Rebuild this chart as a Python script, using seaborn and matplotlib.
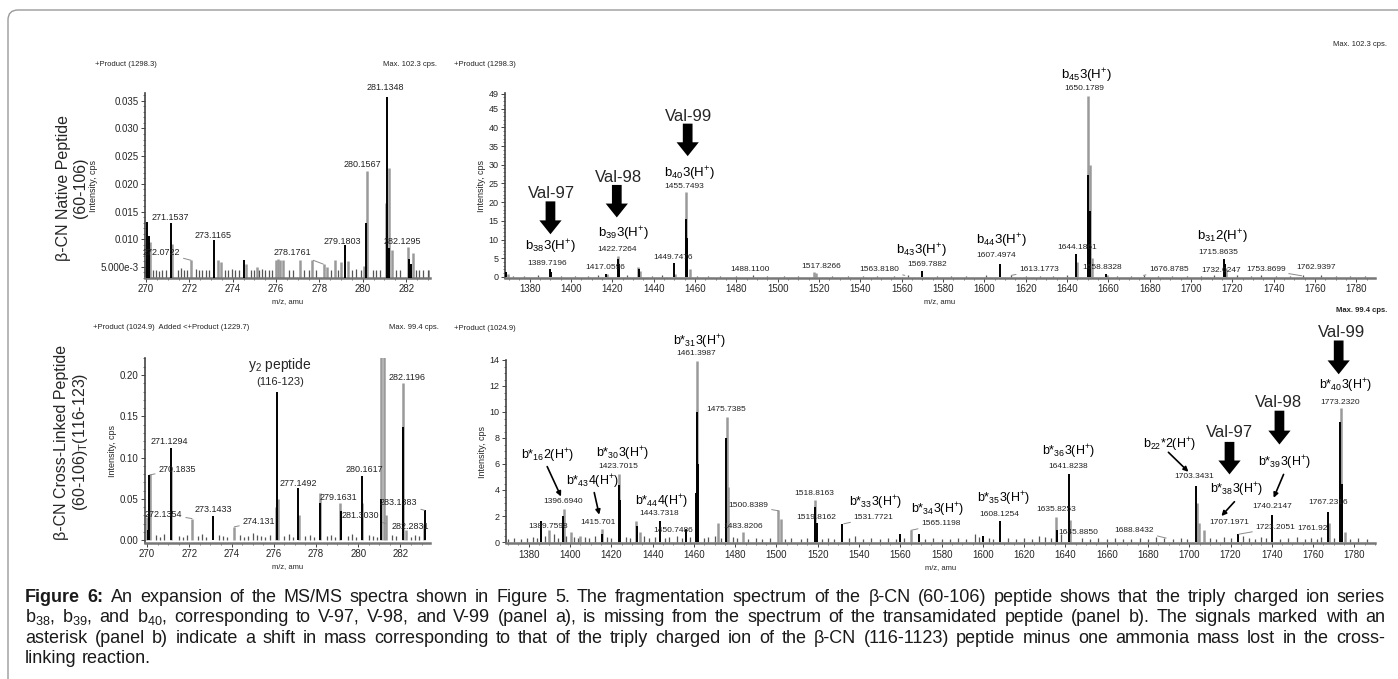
import matplotlib
matplotlib.use("Agg")
import matplotlib.pyplot as plt
import matplotlib.font_manager as fm
from matplotlib.patches import FancyBboxPatch
from matplotlib.ticker import MultipleLocator
import seaborn as sns

# ---------------- data ----------------
# panel a, left (m/z 270-283)
tl_black_mz = [270.05, 270.12, 271.15, 273.12, 274.52, 279.18, 280.16, 281.13, 281.2, 282.15, 282.22]
tl_black_int = [0.0131, 0.0105, 0.0129, 0.0098, 0.0063, 0.0089, 0.0129, 0.0357, 0.0085, 0.0064, 0.0055]
tl_gray_mz = [270.0, 270.18, 271.2, 272.07, 273.3, 273.45, 274.6, 275.1, 276.0, 276.1, 276.2, 276.3,
              277.1, 277.65, 278.2, 278.35, 278.7, 279.0, 279.3, 280.05, 280.2, 281.05, 281.2, 281.35,
              282.1, 282.3, 283.05]
tl_gray_int = [0.0065, 0.0095, 0.0092, 0.0062, 0.0063, 0.0058, 0.0055, 0.0050, 0.0063, 0.0064, 0.0062, 0.0063,
               0.0063, 0.0062, 0.0056, 0.0050, 0.0062, 0.0058, 0.0060, 0.0052, 0.0223, 0.0166, 0.0228, 0.0080,
               0.0086, 0.0075, 0.0045]
tl_noise_mz = [270.3, 270.45, 270.6, 270.75, 270.9, 271.45, 271.6, 271.75, 271.9, 272.3, 272.45, 272.6,
               272.75, 272.9, 273.65, 273.8, 273.95, 274.1, 274.3, 274.85, 275.0, 275.2, 275.35, 275.5,
               275.65, 275.8, 276.6, 276.8, 277.3, 277.5, 277.85, 278.55, 278.85, 279.5, 279.7, 279.9,
               280.45, 280.6, 280.8, 281.55, 281.7, 282.45, 282.6, 282.8, 283.0]
tl_noise_int = [0.0045, 0.0045, 0.0042, 0.0045, 0.0045, 0.0045, 0.0048, 0.0044, 0.0045, 0.0046, 0.0045, 0.0045,
                0.0044, 0.0045, 0.0045, 0.0044, 0.0046, 0.0045, 0.0045, 0.0045, 0.0045, 0.0044, 0.0046, 0.0045,
                0.0045, 0.0045, 0.0045, 0.0044, 0.0045, 0.0045, 0.0044, 0.0045, 0.0044, 0.0045, 0.0046, 0.0045,
                0.0045, 0.0045, 0.0044, 0.0045, 0.0045, 0.0045, 0.0045, 0.0044, 0.0045]

# panel a, right (m/z 1368-1790)
tr_black_mz = [1368.6, 1389.7, 1390.3, 1417.0, 1422.6, 1423.3, 1432.8, 1449.75, 1455.6, 1456.3,
               1569.8, 1607.5, 1644.2, 1650.1, 1651.2, 1658.8, 1715.8, 1716.3]
tr_black_int = [1.2, 2.0, 1.2, 0.8, 4.8, 3.5, 2.0, 3.6, 15.5, 10.5,
                1.6, 3.5, 6.0, 27.2, 17.5, 0.8, 4.8, 3.5]
tr_gray_mz = [1369.3, 1417.5, 1422.8, 1432.2, 1433.5, 1450.3, 1455.8, 1457.6, 1517.6, 1518.3,
              1645.0, 1650.3, 1651.0, 1652.0, 1659.3, 1716.8]
tr_gray_int = [0.8, 0.7, 5.7, 2.6, 1.5, 0.8, 22.6, 2.0, 1.2, 1.1,
               4.0, 48.5, 30.0, 5.0, 0.6, 2.0]
tr_noise_mz = [1372, 1377, 1384, 1395, 1402, 1408, 1413, 1427, 1439, 1444, 1461, 1466, 1472, 1480,
               1488, 1495, 1503, 1510, 1526, 1534, 1541, 1548, 1556, 1563, 1577, 1584, 1591, 1601,
               1613, 1620, 1627, 1633, 1640, 1664, 1671, 1677, 1684, 1691, 1698, 1705, 1711, 1722,
               1729, 1734, 1741, 1748, 1754, 1763, 1770, 1777, 1784]
tr_noise_int = [0.3, 0.2, 0.4, 0.3, 0.2, 0.3, 0.4, 0.5, 0.3, 0.4, 0.3, 0.2, 0.3, 0.2,
                0.4, 0.2, 0.3, 0.2, 0.3, 0.2, 0.3, 0.2, 0.2, 0.4, 0.3, 0.2, 0.3, 0.4,
                0.5, 0.2, 0.3, 0.2, 0.6, 0.3, 0.2, 0.4, 0.2, 0.3, 0.2, 0.3, 0.4, 0.6,
                0.3, 0.4, 0.3, 0.2, 0.4, 0.5, 0.2, 0.3, 0.2]

# panel b, left (m/z 270-283)
bl_black_mz = [270.02, 270.11, 271.12, 273.14, 276.15, 277.15, 278.17, 279.17, 280.16, 281.1, 282.13, 283.14]
bl_black_int = [0.012, 0.079, 0.111, 0.029, 0.180, 0.063, 0.045, 0.035, 0.078, 0.050, 0.137, 0.036]
bl_gray_mz = [270.0, 270.15, 271.15, 272.13, 274.13, 276.1, 276.2, 277.2, 278.2, 279.16, 280.2,
              281.08, 281.22, 281.3, 282.12, 282.28, 283.1]
bl_gray_int = [0.028, 0.080, 0.085, 0.026, 0.016, 0.040, 0.050, 0.030, 0.057, 0.045, 0.045,
               0.230, 0.230, 0.030, 0.190, 0.012, 0.020]
bl_noise_mz = [270.4, 270.6, 270.8, 271.5, 271.7, 271.9, 272.4, 272.6, 272.8, 273.4, 273.6, 273.8,
               274.4, 274.6, 274.8, 275.0, 275.2, 275.4, 275.6, 275.8, 276.5, 276.7, 276.9, 277.5,
               277.7, 277.9, 278.5, 278.7, 278.9, 279.5, 279.7, 279.9, 280.5, 280.7, 280.9, 281.6,
               281.8, 282.5, 282.7, 282.9]
bl_noise_int = [0.006, 0.004, 0.007, 0.005, 0.004, 0.006, 0.005, 0.007, 0.004, 0.006, 0.005, 0.004,
                0.006, 0.004, 0.005, 0.008, 0.006, 0.005, 0.004, 0.006, 0.005, 0.007, 0.004, 0.005,
                0.006, 0.004, 0.005, 0.006, 0.004, 0.005, 0.007, 0.004, 0.006, 0.005, 0.004, 0.006,
                0.005, 0.004, 0.006, 0.005]

# panel b, right (m/z 1368-1790)
br_black_mz = [1368.5, 1386.0, 1396.6, 1415.7, 1423.6, 1424.4, 1432.5, 1443.7, 1456.0, 1461.0, 1461.4,
               1462.1, 1475.7, 1518.6, 1519.6, 1531.8, 1560.0, 1569.0, 1600.0, 1608.1, 1635.8, 1641.8,
               1703.3, 1723.5, 1740.2, 1767.2, 1773.2, 1774.0]
br_black_int = [0.5, 1.6, 2.0, 0.6, 4.4, 3.2, 1.2, 1.6, 1.0, 3.8, 10.0,
                6.0, 8.0, 2.7, 1.5, 1.4, 0.6, 0.6, 0.5, 1.6, 0.9, 5.2,
                4.3, 0.6, 2.1, 2.3, 9.2, 4.5]
br_gray_mz = [1390.0, 1396.9, 1400.5, 1405.0, 1415.3, 1423.8, 1432.0, 1434.0, 1461.6, 1471.5, 1475.9,
              1476.6, 1483.8, 1500.8, 1502.0, 1518.8, 1565.1, 1635.6, 1642.3, 1703.6, 1704.5, 1707.2,
              1767.6, 1773.4, 1775.5]
br_gray_int = [0.9, 2.55, 0.8, 0.5, 1.0, 5.25, 1.6, 0.8, 13.9, 1.5, 9.65,
               4.2, 0.8, 2.45, 1.8, 3.2, 0.9, 1.9, 1.7, 3.0, 1.5, 0.9,
               1.5, 10.3, 0.8]
br_noise_mz = [1370, 1373, 1376, 1379, 1382, 1384, 1388, 1392, 1394, 1398, 1402, 1404, 1407, 1409, 1412,
               1418, 1420, 1427, 1429, 1436, 1438, 1441, 1446, 1448, 1452, 1454, 1458, 1465, 1467, 1470,
               1473, 1479, 1481, 1486, 1490, 1493, 1497, 1504, 1507, 1512, 1515, 1522, 1525, 1528, 1535,
               1538, 1542, 1546, 1550, 1554, 1558, 1562, 1572, 1576, 1580, 1584, 1588, 1592, 1596, 1598,
               1603, 1605, 1612, 1616, 1620, 1624, 1627, 1630, 1633, 1638, 1648, 1652, 1656, 1660, 1664,
               1668, 1672, 1676, 1680, 1684, 1688, 1692, 1696, 1699, 1710, 1713, 1717, 1720, 1726, 1729,
               1732, 1735, 1737, 1744, 1748, 1752, 1756, 1759, 1762, 1764, 1770, 1778, 1782, 1786]
br_noise_int = [0.2, 0.3, 0.2, 0.3, 0.4, 0.3, 0.5, 0.6, 0.3, 0.5, 0.4, 0.3, 0.4, 0.3, 0.5,
                0.4, 0.3, 0.4, 0.3, 0.5, 0.3, 0.4, 0.3, 0.4, 0.5, 0.3, 0.4, 0.3, 0.4, 0.5,
                0.3, 0.4, 0.3, 0.2, 0.3, 0.2, 0.3, 0.2, 0.3, 0.2, 0.3, 0.2, 0.3, 0.2, 0.3,
                0.5, 0.2, 0.3, 0.2, 0.3, 0.2, 0.3, 0.2, 0.3, 0.2, 0.2, 0.3, 0.2, 0.6, 0.4,
                0.3, 0.2, 0.3, 0.2, 0.3, 0.2, 0.5, 0.4, 0.3, 0.6, 0.3, 0.2, 0.3, 0.2, 0.3,
                0.2, 0.2, 0.3, 0.2, 0.4, 0.3, 0.2, 0.3, 0.2, 0.3, 0.2, 0.4, 0.3, 0.5, 0.3,
                0.2, 0.4, 0.3, 0.2, 0.3, 0.4, 0.2, 0.3, 0.2, 0.4, 0.3, 0.2, 0.3, 0.2]

# annotations: (text, m/z, intensity) and optional leader target (m/z, intensity)
tl_values = [("281.1348", 281.03, 0.0374, None), ("280.1567", 279.97, 0.0235, None),
             ("271.1537", 271.14, 0.0140, None), ("273.1165", 273.09, 0.0107, None),
             ("279.1803", 279.06, 0.0095, None), ("282.1295", 281.80, 0.0095, None),
             ("272.0722", 270.71, 0.0076, (272.07, 0.0062)), ("278.1761", 276.77, 0.0076, (278.18, 0.0055))]

tr_values = [("1389.7196", 1388.3, 3.7, None), ("1422.7264", 1422.1, 7.4, None),
             ("1455.7493", 1454.5, 24.1, None), ("1417.0596", 1416.3, 2.4, None),
             ("1449.7476", 1449.2, 5.3, None), ("1488.1100", 1486.8, 1.9, None),
             ("1517.8266", 1521.1, 2.9, None), ("1563.8180", 1549.2, 1.9, (1561.5, 0.4)),
             ("1569.7882", 1572.3, 3.2, None), ("1607.4974", 1605.7, 5.6, None),
             ("1613.1773", 1626.5, 1.9, (1613.0, 0.4)), ("1644.1861", 1644.8, 7.9, None),
             ("1650.1789", 1648.2, 50.3, None), ("1658.8328", 1656.9, 2.6, None),
             ("1676.8785", 1689.3, 1.9, (1677.0, 0.4)), ("1715.8635", 1713.4, 6.6, None),
             ("1732.0247", 1714.4, 1.6, None), ("1753.8699", 1736.1, 1.9, (1753.5, 0.3)),
             ("1762.9397", 1760.3, 2.4, None)]
tr_ions = [("b$_{38}$3(H$^{+}$)", 1390.2, 7.9), ("b$_{39}$3(H$^{+}$)", 1425.5, 11.4),
           ("b$_{40}$3(H$^{+}$)", 1457.4, 27.5), ("b$_{43}$3(H$^{+}$)", 1569.4, 6.9),
           ("b$_{44}$3(H$^{+}$)", 1608.1, 9.5), ("b$_{45}$3(H$^{+}$)", 1649.6, 53.7),
           ("b$_{31}$2(H$^{+}$)", 1715.3, 10.6)]
tr_val = [("Val-97", 1390.6, 22.2, 1390.0, 20.2, 11.4),
          ("Val-98", 1423.1, 26.7, 1422.1, 24.6, 15.9),
          ("Val-99", 1456.9, 42.9, 1456.4, 41.0, 32.3)]

bl_values = [("271.1294", 271.07, 0.120, None), ("270.1835", 271.42, 0.0857, (270.15, 0.079)),
             ("272.1354", 270.79, 0.0315, (272.13, 0.026)), ("273.1433", 273.13, 0.037, None),
             ("274.131", 275.29, 0.022, (274.13, 0.016)), ("277.1492", 277.16, 0.069, None),
             ("279.1631", 279.08, 0.052, None), ("280.1617", 280.27, 0.0857, None),
             ("283.1383", 281.92, 0.045, (283.14, 0.036)), ("281.3030", 280.10, 0.030, (281.30, 0.020)),
             ("282.1196", 282.29, 0.197, None), ("282.2831", 282.45, 0.016, None)]

br_values = [("1461.3987", 1461.2, 14.5, None), ("1475.7385", 1475.8, 10.2, None),
             ("1396.6940", 1396.6, 3.1, None), ("1415.701", 1413.6, 1.5, None),
             ("1423.7015", 1423.3, 5.8, None), ("1389.7598", 1389.3, 1.2, None),
             ("1443.7318", 1443.2, 2.2, None), ("1450.7486", 1450.0, 0.86, None),
             ("1500.8389", 1486.4, 2.8, (1501.0, 2.4)), ("1483.8206", 1484.0, 1.2, None),
             ("1518.8163", 1518.5, 3.7, None), ("1519.8162", 1519.4, 1.9, None),
             ("1531.7721", 1547.1, 1.9, (1532.6, 1.4)), ("1565.1198", 1579.7, 1.4, (1565.2, 0.9)),
             ("1608.1254", 1607.8, 2.1, None), ("1635.8253", 1635.5, 2.5, None),
             ("1641.8238", 1641.3, 5.8, None), ("1645.8850", 1646.2, 0.7, None),
             ("1688.8432", 1673.4, 0.9, (1688.8, 0.3)), ("1703.3431", 1702.5, 5.0, None),
             ("1707.1971", 1719.4, 1.5, None), ("1723.2051", 1741.8, 1.1, (1724.0, 0.6)),
             ("1740.2147", 1740.4, 2.7, None), ("1761.92", 1759.8, 1.0, None),
             ("1767.2316", 1767.5, 3.0, None), ("1773.2320", 1772.9, 10.7, None)]
br_ions = [("b*$_{31}$3(H$^{+}$)", 1462.6, 15.4), ("b*$_{16}$2(H$^{+}$)", 1388.9, 6.6),
           ("b*$_{43}$4(H$^{+}$)", 1410.7, 4.6), ("b*$_{30}$3(H$^{+}$)", 1425.3, 6.8),
           ("b*$_{44}$4(H$^{+}$)", 1444.2, 3.1), ("b*$_{33}$3(H$^{+}$)", 1548.1, 3.0),
           ("b*$_{34}$3(H$^{+}$)", 1578.2, 2.5), ("b*$_{35}$3(H$^{+}$)", 1609.8, 3.3),
           ("b*$_{36}$3(H$^{+}$)", 1641.3, 6.9), ("b$_{22}$*2(H$^{+}$)", 1690.4, 7.5),
           ("b*$_{38}$3(H$^{+}$)", 1722.9, 4.0), ("b*$_{39}$3(H$^{+}$)", 1746.2, 6.1),
           ("b*$_{40}$3(H$^{+}$)", 1775.8, 12.0)]
br_pointers = [(1388.9, 5.8, 1395.6, 3.5), (1411.7, 3.8, 1414.1, 2.1), (1689.9, 6.9, 1699.6, 5.4),
               (1721.9, 3.1, 1715.6, 2.0), (1745.7, 5.2, 1740.9, 3.4)]
br_val = [("Val-97", 1719.5, 8.4, 1719.5, 7.7, 5.2),
          ("Val-98", 1743.3, 10.7, 1743.7, 10.1, 7.5),
          ("Val-99", 1773.8, 16.1, 1772.4, 15.5, 12.9)]

caption_lines = [
    "Figure 6: An expansion of the MS/MS spectra shown in Figure 5. The fragmentation spectrum of the "
    "\u03b2-CN (60-106) peptide shows that the triply charged ion series",
    "b$_{38}$, b$_{39}$, and b$_{40}$, corresponding to V-97, V-98, and V-99 (panel a), is missing from the "
    "spectrum of the transamidated peptide (panel b). The signals marked with an",
    "asterisk (panel b) indicate a shift in mass corresponding to that of the triply charged ion of the "
    "\u03b2-CN (116-1123) peptide minus one ammonia mass lost in the cross-",
    "linking reaction.",
]

# ---------------- style ----------------
sns.set_style("white")
installed = {f.name for f in fm.fontManager.ttflist}
BASE = "Liberation Sans" if "Liberation Sans" in installed else "DejaVu Sans"
plt.rcParams["font.family"] = [BASE, "DejaVu Sans"]
plt.rcParams["mathtext.fontset"] = "custom"
plt.rcParams["mathtext.rm"] = BASE
plt.rcParams["mathtext.it"] = BASE
plt.rcParams["mathtext.bf"] = BASE + ":bold"
plt.rcParams["mathtext.default"] = "regular"

W, H = 1398, 679
GRAY = "#9a9a9a"


def fx(px):
    return px / W


def fy(py):
    return 1 - py / H


def draw_spectrum(ax, gmz, gint, bmz, bint, nmz, nint, base):
    ax.vlines(gmz, base, gint, color=GRAY, lw=1.8, zorder=2)
    ax.vlines(nmz, base, nint, color="#555555", lw=0.9, zorder=2)
    ax.vlines(bmz, base, bint, color="black", lw=1.4, zorder=3)


def style_axes(ax, xlim, ylim, xmajor, xminor, yticks, ylabels, yminor, ysize):
    ax.set_xlim(xlim)
    ax.set_ylim(ylim)
    ax.xaxis.set_major_locator(MultipleLocator(xmajor))
    ax.xaxis.set_minor_locator(MultipleLocator(xminor))
    ax.set_yticks(yticks)
    ax.set_yticklabels(ylabels)
    ax.yaxis.set_minor_locator(MultipleLocator(yminor))
    sns.despine(ax=ax)
    ax.spines["left"].set_color("#444444")
    ax.spines["left"].set_linewidth(1.2)
    ax.spines["bottom"].set_color("#777777")
    ax.spines["bottom"].set_linewidth(1.8)
    ax.tick_params(which="both", bottom=True, left=True, direction="out", color="#444444")
    ax.tick_params(which="major", length=3, width=0.7, pad=1.5)
    ax.tick_params(which="minor", length=1.5, width=0.5)
    ax.tick_params(axis="x", labelsize=7)
    ax.tick_params(axis="y", labelsize=ysize)
    ax.set_xlabel("m/z, amu", fontsize=5.5, labelpad=3)
    ax.set_ylabel("Intensity, cps", fontsize=6.5, labelpad=2)
    ax.patch.set_alpha(0)


def add_values(ax, values, size=6):
    for text, x, y, target in values:
        if target is None:
            ax.text(x, y, text, fontsize=size, ha="center", va="center", color="#222222", zorder=5)
        else:
            ax.annotate(text, xy=target, xytext=(x, y), fontsize=size, ha="center", va="center",
                        color="#222222", zorder=5,
                        arrowprops=dict(arrowstyle="-", color="#8a8a8a", lw=0.7, shrinkA=0, shrinkB=0))


def add_ions(ax, ions, size):
    for text, x, y in ions:
        ax.text(x, y, text, fontsize=size, ha="center", va="center", color="black", zorder=6)


def add_val_arrows(ax, vals):
    for text, tx, ty, ax_x, y0, y1 in vals:
        ax.text(tx, ty, text, fontsize=12, ha="center", va="center", zorder=6)
        ax.annotate("", xy=(ax_x, y1), xytext=(ax_x, y0), zorder=6,
                    arrowprops=dict(facecolor="black", edgecolor="black", width=7, headwidth=16,
                                    headlength=10, shrink=0, lw=0))


# ---------------- figure ----------------
fig = plt.figure(figsize=(W / 100, H / 100), dpi=100)

border = FancyBboxPatch((0.08, -1.0), 20, 6.69 + 1.0, boxstyle="round,pad=0,rounding_size=0.1",
                        transform=fig.dpi_scale_trans, fill=False, ec="#9a9a9a", lw=1.0)
fig.add_artist(border)

ax_tl = fig.add_axes([fx(145), fy(278), 285 / W, 185 / H])
ax_tr = fig.add_axes([fx(505), fy(278), 870 / W, 185 / H])
ax_bl = fig.add_axes([fx(145), fy(543), 285 / W, 185 / H])
ax_br = fig.add_axes([fx(505.7), fy(543.3), 869.3 / W, 183.3 / H])

# panel a, left
draw_spectrum(ax_tl, tl_gray_mz, tl_gray_int, tl_black_mz, tl_black_int, tl_noise_mz, tl_noise_int, 0.003)
style_axes(ax_tl, (269.95, 283.1), (0.003, 0.0364), 2, 0.5,
           [0.005, 0.010, 0.015, 0.020, 0.025, 0.030, 0.035],
           ["5.000e-3", "0.010", "0.015", "0.020", "0.025", "0.030", "0.035"], 0.001, 7)
add_values(ax_tl, tl_values, size=6.5)

# panel a, right
draw_spectrum(ax_tr, tr_gray_mz, tr_gray_int, tr_black_mz, tr_black_int, tr_noise_mz, tr_noise_int, 0)
style_axes(ax_tr, (1368, 1789), (-0.3, 49.2), 20, 5,
           [0, 5, 10, 15, 20, 25, 30, 35, 40, 45, 49],
           ["0", "5", "10", "15", "20", "25", "30", "35", "40", "45", "49"], 1, 6.5)
add_values(ax_tr, tr_values)
add_ions(ax_tr, tr_ions, 9.5)
add_val_arrows(ax_tr, tr_val)

# panel b, left
draw_spectrum(ax_bl, bl_gray_mz, bl_gray_int, bl_black_mz, bl_black_int, bl_noise_mz, bl_noise_int, 0)
style_axes(ax_bl, (269.9, 283.4), (-0.0036, 0.2206), 2, 0.5,
           [0.0, 0.05, 0.10, 0.15, 0.20], ["0.00", "0.05", "0.10", "0.15", "0.20"], 0.01, 7)
add_values(ax_bl, bl_values, size=6.5)
ax_bl.text(276.3, 0.212, "y$_{2}$ peptide", fontsize=10, ha="center", va="center")
ax_bl.text(276.3, 0.191, "(116-123)", fontsize=8, ha="center", va="center")

# panel b, right
draw_spectrum(ax_br, br_gray_mz, br_gray_int, br_black_mz, br_black_int, br_noise_mz, br_noise_int, 0)
style_axes(ax_br, (1368.8, 1790), (-0.1, 14.0), 20, 5,
           [0, 2, 4, 6, 8, 10, 12, 14], ["0", "2", "4", "6", "8", "10", "12", "14"], 0.5, 6.5)
add_values(ax_br, br_values)
add_ions(ax_br, br_ions, 9)
for x0, y0, x1, y1 in br_pointers:
    ax_br.annotate("", xy=(x1, y1), xytext=(x0, y0), zorder=6,
                   arrowprops=dict(arrowstyle="-|>", color="black", lw=1.2, mutation_scale=7,
                                   shrinkA=0, shrinkB=0))
add_val_arrows(ax_br, br_val)

# headers
hdr = dict(fontsize=5.5, color="#222222", va="center")
fig.text(fx(95), fy(64), "+Product (1298.3)", ha="left", **hdr)
fig.text(fx(437), fy(64), "Max. 102.3 cps.", ha="right", **hdr)
fig.text(fx(454), fy(64), "+Product (1298.3)", ha="left", **hdr)
fig.text(fx(1387), fy(44), "Max. 102.3 cps.", ha="right", **hdr)
fig.text(fx(93), fy(327), "+Product (1024.9)  Added <+Product (1229.7)", ha="left", **hdr)
fig.text(fx(439), fy(327), "Max. 99.4 cps.", ha="right", **hdr)
fig.text(fx(454), fy(328), "+Product (1024.9)", ha="left", **hdr)
fig.text(fx(1387), fy(311), "Max. 99.4 cps.", ha="right", fontsize=5.5, fontweight="bold",
         color="#222222", va="center")

# row titles
fig.text(fx(72), fy(188), "\u03b2-CN Native Peptide\n(60-106)", rotation=90, fontsize=11.5,
         ha="center", va="center", multialignment="center", linespacing=1.2)
fig.text(fx(72), fy(442), "\u03b2-CN Cross-Linked Peptide\n(60-106)$_{T}$(116-123)", rotation=90,
         fontsize=11.5, ha="center", va="center", multialignment="center", linespacing=1.2)

# caption, justified word by word; font size chosen so the first line fills with normal spacing
renderer = fig.canvas.get_renderer()
cap_y = [602, 622, 643, 663]
x_left, x_right = 25, 1385


def caption_words(i, line, size):
    out = []
    for j, word in enumerate(line.split(" ")):
        weight = "bold" if (i == 0 and j < 2) else "normal"
        out.append(fig.text(0, fy(cap_y[i]), word, fontsize=size, fontweight=weight,
                            ha="left", va="baseline", color="#1a1a1a"))
    return out


probe = caption_words(0, caption_lines[0], 11)
natural = sum(t.get_window_extent(renderer).width for t in probe) + (len(probe) - 1) * 11 * 0.278 * 100 / 72
for t in probe:
    t.remove()
cap_size = min(13.0, max(10, 11 * (x_right - x_left) / natural))

for i, line in enumerate(caption_lines):
    texts = caption_words(i, line, cap_size)
    widths = [t.get_window_extent(renderer).width for t in texts]
    if i < len(caption_lines) - 1:
        gap = (x_right - x_left - sum(widths)) / (len(texts) - 1)
    else:
        gap = cap_size * 0.278 * 100 / 72
    x = x_left
    for t, w in zip(texts, widths):
        t.set_x(fx(x))
        x += w + gap

fig.savefig("out.png", dpi=100)
